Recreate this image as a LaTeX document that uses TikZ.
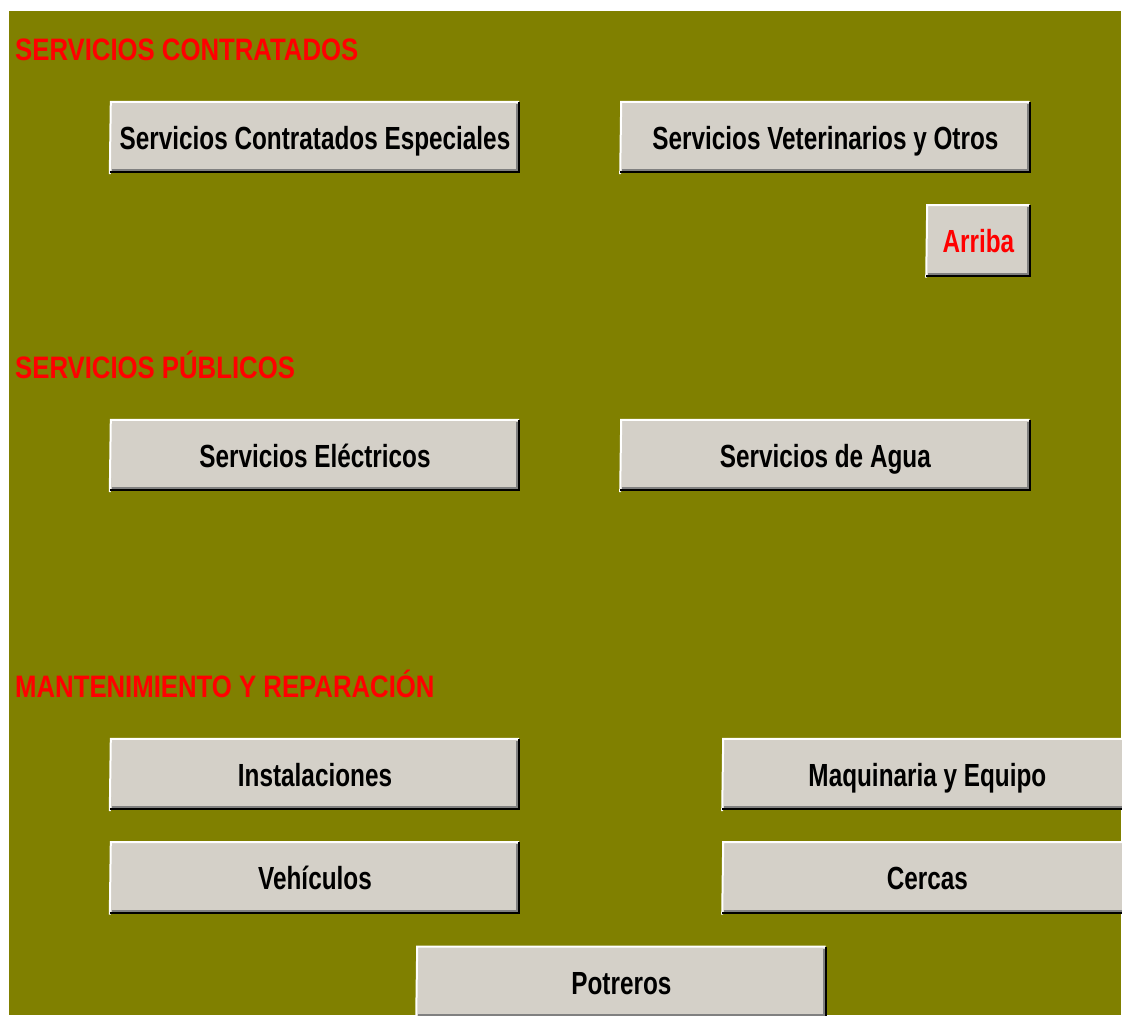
\documentclass[tikz,border=0pt]{standalone}
\usepackage{fontspec}
\setmainfont{Liberation Sans}[FakeStretch=0.76]
\newfontfamily\titfont{Liberation Sans}[FakeStretch=0.83]
\usetikzlibrary{positioning}
\definecolor{oliva}{HTML}{808000}
\definecolor{gristk}{HTML}{D4D0C8}
\definecolor{sombra}{HTML}{808080}

\begin{document}
\begin{tikzpicture}[x=1pt, y=-1pt,
        boton/.style={rectangle, fill=gristk, inner sep=0pt, minimum width=410, minimum height=71,
            text height=30pt, text depth=6pt, font=\fontsize{32}{34}\selectfont\bfseries},
        titulo/.style={anchor=base west, inner sep=0pt, text=red, font=\titfont\fontsize{31}{33}\selectfont\bfseries}]
        \useasboundingbox (0,0) rectangle (1122,1015);
        \clip (0,0) rectangle (1122,1015);
        \fill[oliva] (9,11) rectangle (1121,1015);
        % servicios contratados
        \node (tcontrat) [titulo] at (15,60) {SERVICIOS CONTRATADOS};
        \node (especial) [boton] at (315,137.5) {Servicios Contratados Especiales};
        \node (veterin) [boton, right= 100pt of especial] {Servicios Veterinarios y Otros};
        \node (arriba) [boton, minimum width=104, text=red, below left= 32pt and 0pt of veterin.south east] {Arriba};
        % servicios publicos
        \node (tpublic) [titulo] at (15,378) {SERVICIOS PÚBLICOS};
        \node (electric) [boton] at (315,455.5) {Servicios Eléctricos};
        \node (agua) [boton, right= 100pt of electric] {Servicios de Agua};
        % mantenimiento
        \node (tmanten) [titulo] at (15,697) {MANTENIMIENTO Y REPARACIÓN};
        \node (instal) [boton] at (315,774.5) {Instalaciones};
        \node (maquina) [boton, right= 202pt of instal] {Maquinaria y Equipo};
        \node (vehic) [boton, below= 32pt of instal] {Vehículos};
        \node (cercas) [boton, right= 202pt of vehic] {Cercas};
        \node (potrer) [boton, below right= 33pt and -104pt of vehic.south east, anchor=north west] {Potreros};
        % bordes de los botones
        \foreach \b in {especial, veterin, arriba, electric, agua, instal, maquina, vehic, cercas, potrer} {
            \draw[white, line width=2] ([yshift=-1]\b.south west) -- ([xshift=1]\b.north west) -- ([xshift=-1]\b.north east);
            \draw[sombra, line width=2] ([shift={(2,-3)}]\b.south west) -- ([shift={(-3,-3)}]\b.south east) -- ([shift={(-3,2)}]\b.north east);
            \draw[black, line width=2] ([shift={(0,-1)}]\b.south west) -- ([shift={(-1,-1)}]\b.south east) -- ([shift={(-1,0)}]\b.north east);
        }
\end{tikzpicture}
\end{document}
